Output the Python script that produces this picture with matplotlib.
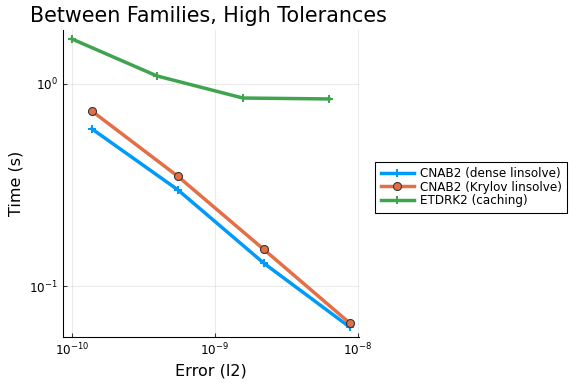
import matplotlib.pyplot as plt
import numpy as np

# data
err_cnab = [1.38e-10, 5.5e-10, 2.2e-9, 8.8e-9]
time_dense = [0.60, 0.30, 0.130, 0.0627]
time_krylov = [0.735, 0.350, 0.152, 0.0656]
err_etdrk = [1.0e-10, 3.93e-10, 1.57e-9, 6.27e-9]
time_etdrk = [1.67, 1.096, 0.852, 0.843]

labels = ["CNAB2 (dense linsolve)", "CNAB2 (Krylov linsolve)", "ETDRK2 (caching)"]
colors = ["#009AFA", "#E36F47", "#3EA44E"]

fig = plt.figure(figsize=(6, 4), dpi=96)
ax = fig.add_axes([0.109, 0.122, 0.514, 0.80])

ax.plot(err_cnab, time_dense, color=colors[0], lw=2.6, marker="P",
        ms=6, markeredgewidth=0, label=labels[0])
ax.plot(err_cnab, time_krylov, color=colors[1], lw=2.6, marker="o",
        ms=6, markeredgecolor="#333333", markeredgewidth=0.8, label=labels[1])
ax.plot(err_etdrk, time_etdrk, color=colors[2], lw=2.6, marker="P",
        ms=6, markeredgewidth=0, label=labels[2])

ax.set_xscale("log")
ax.set_yscale("log")
ax.set_xlim(10 ** -10.063, 10 ** -7.993)
ax.set_ylim(10 ** -1.252, 10 ** 0.267)
ax.set_xticks([1e-10, 1e-9, 1e-8])
ax.set_yticks([1e-1, 1e0])
ax.minorticks_off()
ax.tick_params(direction="in", length=3, labelsize=9, color="#333333")
ax.grid(True, color="black", alpha=0.08, lw=0.8)
for s in ["top", "right"]:
    ax.spines[s].set_visible(False)

ax.set_xlabel("Error (l2)", fontsize=12)
ax.set_ylabel("Time (s)", fontsize=12)
ax.set_title("Between Families, High Tolerances", fontsize=15.5, loc="left", x=-0.111)

leg = fig.legend(loc="center left", bbox_to_anchor=(0.641, 0.513), fontsize=9,
                 fancybox=False, edgecolor="black", framealpha=1,
                 handlelength=2.8, borderpad=0.45, labelspacing=0.05,
                 handletextpad=0.5)
leg.get_frame().set_linewidth(0.8)

fig.savefig("out.png", dpi=96)
